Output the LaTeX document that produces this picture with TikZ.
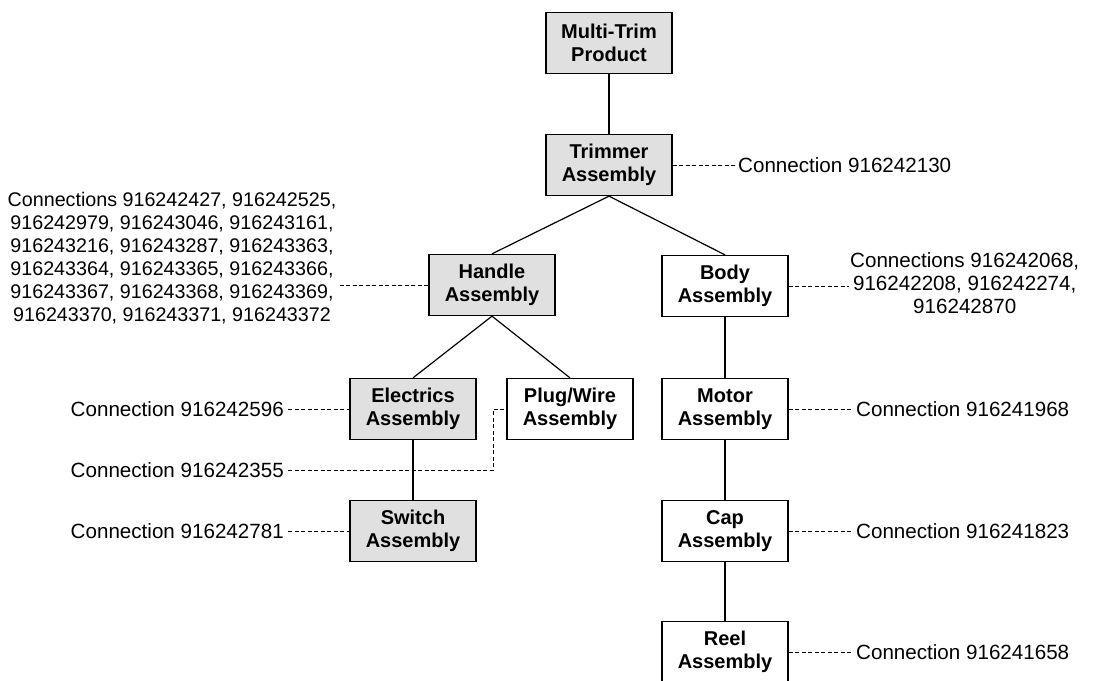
\documentclass[tikz,border=0pt]{standalone}
\usepackage{fontspec}
\setmainfont{Liberation Sans}
\begin{document}
\begin{tikzpicture}[x=1pt,y=-1pt,
 box/.style={draw=black, line width=1.3pt, minimum width=126pt, minimum height=61pt, align=center, font=\fontsize{20}{23.5}\selectfont\bfseries, inner sep=2pt},
 shaded/.style={box, fill=black!12},
 plain/.style={box, fill=white},
 lbl/.style={font=\fontsize{20.6}{23}\selectfont, align=center, inner sep=1pt},
 biglbl/.style={lbl, font=\fontsize{19.7}{23}\selectfont},
 link/.style={line width=1.2pt},
 dlink/.style={line width=0.9pt, dash pattern=on 4pt off 2.5pt}]
\useasboundingbox (0,0) rectangle (1100,680);
\clip (0,0) rectangle (1100,680);
% boxes
\node[shaded] (mt) at (609,43) {Multi-Trim\\Product};
\node[shaded] (tr) at (609,165) {Trimmer\\Assembly};
\node[shaded] (ha) at (492,285) {Handle\\Assembly};
\node[plain] (bo) at (725,286) {Body\\Assembly};
\node[shaded] (el) at (413,409) {Electrics\\Assembly};
\node[plain] (pw) at (570,409) {Plug/Wire\\Assembly};
\node[shaded] (sw) at (413,531) {Switch\\Assembly};
\node[plain] (mo) at (725,409) {Motor\\Assembly};
\node[plain] (ca) at (725,531) {Cap\\Assembly};
\node[plain] (re) at (725,652) {Reel\\Assembly};
% tree links
\draw[link] (mt.south) -- (tr.north);
\draw[link] (tr.south) -- (ha.north);
\draw[link] (tr.south) -- (bo.north);
\draw[link] (ha.south) -- (el.north);
\draw[link] (ha.south) -- (pw.north);
\draw[link] (el.south) -- (sw.north);
\draw[link] (bo.south) -- (mo.north);
\draw[link] (mo.south) -- (ca.north);
\draw[link] (ca.south) -- (re.north);
% labels
\node[lbl, anchor=west] (ltr) at (737,165) {Connection 916242130};
\node[biglbl] (lha) at (172,258) {Connections 916242427, 916242525,\\916242979, 916243046, 916243161,\\916243216, 916243287, 916243363,\\916243364, 916243365, 916243366,\\916243367, 916243368, 916243369,\\916243370, 916243371, 916243372};
\node[lbl, anchor=west] (lbo) at (849,283) {Connections 916242068,\\916242208, 916242274,\\916242870};
\node[lbl, anchor=east] (lel) at (285,409) {Connection 916242596};
\node[lbl, anchor=east] (lpw) at (285,470) {Connection 916242355};
\node[lbl, anchor=east] (lsw) at (285,531) {Connection 916242781};
\node[lbl, anchor=west] (lmo) at (855,409) {Connection 916241968};
\node[lbl, anchor=west] (lca) at (855,531) {Connection 916241823};
\node[lbl, anchor=west] (lre) at (855,652) {Connection 916241658};
\coordinate (bend) at (493,470);
% dashed links
\draw[dlink] (tr.east) -- (ltr.west);
\draw[dlink] (ha.west) -- (ha.west -| lha.east);
\draw[dlink] (bo.east) -- (bo.east -| lbo.west);
\draw[dlink] ([xshift=3pt]lel.east) -- (el.west);
\draw[dlink] ([xshift=3pt]lpw.east) -- (bend) |- (pw.west);
\draw[dlink] ([xshift=3pt]lsw.east) -- (sw.west);
\draw[dlink] (mo.east) -- ([xshift=-3pt]lmo.west);
\draw[dlink] (ca.east) -- ([xshift=-3pt]lca.west);
\draw[dlink] (re.east) -- ([xshift=-3pt]lre.west);
\end{tikzpicture}
\end{document}
